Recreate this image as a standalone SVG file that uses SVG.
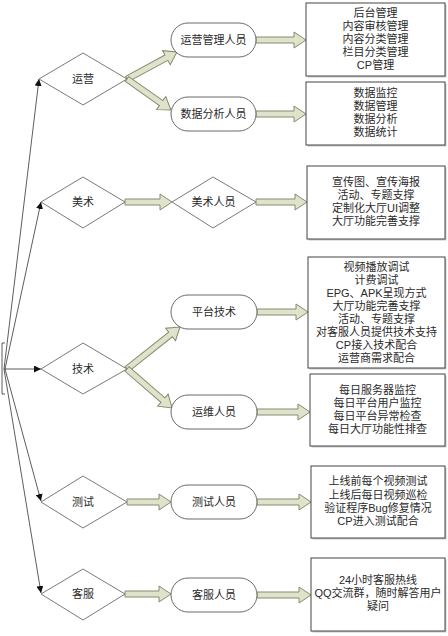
<svg xmlns="http://www.w3.org/2000/svg" width="448" height="636" viewBox="0 0 448 636">
<style>
text{font-family:"Liberation Sans","Noto Sans CJK SC",sans-serif;font-size:11px;fill:#2a2a2a;text-anchor:middle;dominant-baseline:central}
.dia{fill:#fff;stroke:#7a7a7a;stroke-width:1}
.pill{fill:#fff;stroke:#6a6a6a;stroke-width:1}
.box{fill:#fff;stroke:#444;stroke-width:1}
.shadow{fill:#c8c8c8}
.fat{fill:#dfe3cb;stroke:#878a6c;stroke-width:1;stroke-linejoin:miter}
.thin{fill:none;stroke:#333;stroke-width:0.8}
</style>
<defs>
<marker id="ah" viewBox="0 0 10 10" refX="10" refY="5" markerWidth="7" markerHeight="7" orient="auto" markerUnits="userSpaceOnUse">
<path d="M0,0 L10,5 L0,10 z" fill="#111"/>
</marker>
</defs>
<rect width="448" height="636" fill="#fff"/>

<g id="connectors">
<path class="thin" d="M5,343 H2 V394 H5"/>
<line class="thin" x1="4" y1="369" x2="39" y2="79" marker-end="url(#ah)"/>
<line class="thin" x1="5" y1="369" x2="41" y2="202" marker-end="url(#ah)"/>
<line class="thin" x1="4" y1="369" x2="41" y2="369" marker-end="url(#ah)"/>
<line class="thin" x1="5" y1="369" x2="41" y2="501" marker-end="url(#ah)"/>
<line class="thin" x1="4" y1="369" x2="41" y2="593" marker-end="url(#ah)"/>

<polygon class="fat" transform="translate(127,79) rotate(-28.4)" points="0,-3 44.8,-3 44.8,-8 56.8,0 44.8,8 44.8,3 0,3"/>
<polygon class="fat" transform="translate(127,79) rotate(35.2)" points="0,-3 41.8,-3 41.8,-8 53.8,0 41.8,8 41.8,3 0,3"/>
<polygon class="fat" transform="translate(127,369) rotate(-38.4)" points="0,-3 55.6,-3 55.6,-8 67.6,0 55.6,8 55.6,3 0,3"/>
<polygon class="fat" transform="translate(127,369) rotate(40.9)" points="0,-3 47.5,-3 47.5,-8 59.5,0 47.5,8 47.5,3 0,3"/>

<polygon class="fat" transform="translate(256,40)" points="0,-3 38,-3 38,-8 50,0 38,8 38,3 0,3"/>
<polygon class="fat" transform="translate(256,114)" points="0,-3 38,-3 38,-8 50,0 38,8 38,3 0,3"/>
<polygon class="fat" transform="translate(125,202)" points="0,-3 35,-3 35,-8 47,0 35,8 35,3 0,3"/>
<polygon class="fat" transform="translate(256,202)" points="0,-3 39,-3 39,-8 51,0 39,8 39,3 0,3"/>
<polygon class="fat" transform="translate(257,312)" points="0,-3 39,-3 39,-8 51,0 39,8 39,3 0,3"/>
<polygon class="fat" transform="translate(257,412)" points="0,-3 41,-3 41,-8 53,0 41,8 41,3 0,3"/>
<polygon class="fat" transform="translate(127,502)" points="0,-3 32,-3 32,-8 44,0 32,8 32,3 0,3"/>
<polygon class="fat" transform="translate(257,502)" points="0,-3 42,-3 42,-8 54,0 42,8 42,3 0,3"/>
<polygon class="fat" transform="translate(125,594)" points="0,-3 34,-3 34,-8 46,0 34,8 34,3 0,3"/>
<polygon class="fat" transform="translate(257,595)" points="0,-3 42,-3 42,-8 54,0 42,8 42,3 0,3"/>
</g>

<g id="yunying">
<polygon class="dia" points="39,79 83,53 127,79 83,105"/>
<text x="83" y="79">运营</text>
</g>
<g id="meishu">
<polygon class="dia" points="41,202 83,177 125,202 83,228"/>
<text x="83" y="202">美术</text>
</g>
<g id="jishu">
<polygon class="dia" points="41,369 83,343 127,369 83,394"/>
<text x="83" y="369">技术</text>
</g>
<g id="ceshi">
<polygon class="dia" points="41,502 83,476 127,502 83,528"/>
<text x="83" y="502">测试</text>
</g>
<g id="kefu">
<polygon class="dia" points="41,594 83,569 125,594 83,620"/>
<text x="83" y="594">客服</text>
</g>

<g id="yunying-guanli">
<rect class="pill" x="171" y="23" width="85" height="34" rx="17"/>
<text x="213.5" y="40">运营管理人员</text>
</g>
<g id="shuju-fenxi">
<rect class="pill" x="171" y="97" width="85" height="34" rx="17"/>
<text x="213.5" y="114">数据分析人员</text>
</g>
<g id="meishu-renyuan">
<polygon class="dia" points="172,202 213,177 256,202 213,228"/>
<text x="213.5" y="202">美术人员</text>
</g>
<g id="pingtai-jishu">
<rect class="pill" x="171" y="295" width="86" height="34" rx="17"/>
<text x="214" y="312">平台技术</text>
</g>
<g id="yunwei">
<rect class="pill" x="171" y="395" width="86" height="34" rx="17"/>
<text x="214" y="412">运维人员</text>
</g>
<g id="ceshi-renyuan">
<rect class="pill" x="171" y="485" width="86" height="34" rx="17"/>
<text x="214" y="502">测试人员</text>
</g>
<g id="kefu-renyuan">
<rect class="pill" x="171" y="578" width="86" height="34" rx="17"/>
<text x="214" y="595">客服人员</text>
</g>

<g id="box1">
<rect class="shadow" x="307.5" y="4.5" width="139" height="73"/>
<rect class="box" x="306" y="3" width="139" height="73"/>
<text x="375.5" y="13">后台管理</text>
<text x="375.5" y="26">内容审核管理</text>
<text x="375.5" y="39">内容分类管理</text>
<text x="375.5" y="52">栏目分类管理</text>
<text x="375.5" y="65">CP管理</text>
</g>
<g id="box2">
<rect class="shadow" x="307.5" y="83.5" width="139" height="63"/>
<rect class="box" x="306" y="82" width="139" height="63"/>
<text x="375.5" y="93">数据监控</text>
<text x="375.5" y="106">数据管理</text>
<text x="375.5" y="119">数据分析</text>
<text x="375.5" y="132">数据统计</text>
</g>
<g id="box3">
<rect class="shadow" x="308.5" y="167.5" width="138" height="73"/>
<rect class="box" x="307" y="166" width="138" height="73"/>
<text x="376" y="182">宣传图、宣传海报</text>
<text x="376" y="195">活动、专题支撑</text>
<text x="376" y="208">定制化大厅UI调整</text>
<text x="376" y="221">大厅功能完善支撑</text>
</g>
<g id="box4">
<rect class="shadow" x="309.5" y="258.5" width="137" height="111"/>
<rect class="box" x="308" y="257" width="137" height="111"/>
<text x="376.5" y="267">视频播放调试</text>
<text x="376.5" y="280">计费调试</text>
<text x="376.5" y="293">EPG、APK呈现方式</text>
<text x="376.5" y="306">大厅功能完善支撑</text>
<text x="376.5" y="319">活动、专题支撑</text>
<text x="376.5" y="332">对客服人员提供技术支持</text>
<text x="376.5" y="345">CP接入技术配合</text>
<text x="376.5" y="358">运营商需求配合</text>
</g>
<g id="box5">
<rect class="shadow" x="311.5" y="375.5" width="135" height="72"/>
<rect class="box" x="310" y="374" width="135" height="72"/>
<text x="377.5" y="390">每日服务器监控</text>
<text x="377.5" y="403">每日平台用户监控</text>
<text x="377.5" y="416">每日平台异常检查</text>
<text x="377.5" y="429">每日大厅功能性排查</text>
</g>
<g id="box6">
<rect class="shadow" x="312.5" y="467.5" width="134" height="72"/>
<rect class="box" x="311" y="466" width="134" height="72"/>
<text x="378" y="481">上线前每个视频测试</text>
<text x="378" y="494.5">上线后每日视频巡检</text>
<text x="378" y="508">验证程序Bug修复情况</text>
<text x="378" y="521">CP进入测试配合</text>
</g>
<g id="box7">
<rect class="shadow" x="312.5" y="559.5" width="134" height="73"/>
<rect class="box" x="311" y="558" width="134" height="73"/>
<text x="378" y="580">24小时客服热线</text>
<text x="378" y="593">QQ交流群，随时解答用户</text>
<text x="378" y="606">疑问</text>
</g>
</svg>
